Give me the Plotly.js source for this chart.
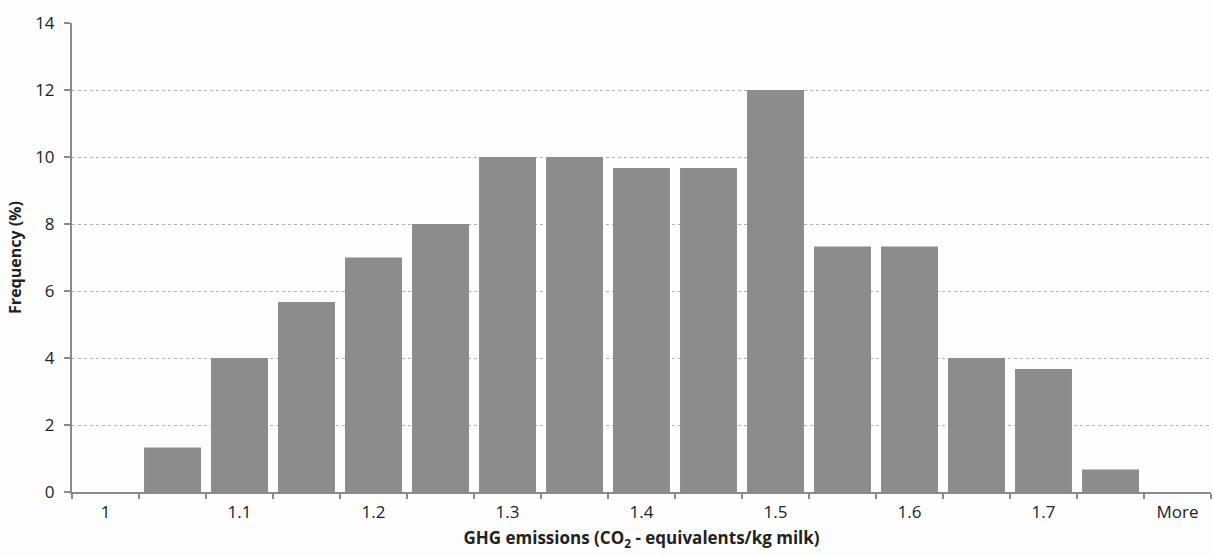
<!DOCTYPE html>
<html>
<head>
<meta charset="utf-8">
<script src="https://cdn.plot.ly/plotly-3.0.1.min.js"></script>
<style>html,body{margin:0;padding:0;background:#fdfdfd;}#chart{width:1213px;height:557px;}</style>
</head>
<body>
<div id="chart"></div>
<script>
const categories = ['1','1.05','1.1','1.15','1.2','1.25','1.3','1.35','1.4','1.45','1.5','1.55','1.6','1.65','1.7','1.75','More'];
const frequency = [0, 1.33, 4, 5.67, 7, 8, 10, 10, 9.67, 9.67, 12, 7.33, 7.33, 4, 3.67, 0.67, 0];
const tickLabels = ['1','','1.1','','1.2','','1.3','','1.4','','1.5','','1.6','','1.7','','More'];
const yTicks = [0, 2, 4, 6, 8, 10, 12, 14];

const trace = {
  type: 'bar',
  x: categories,
  y: frequency,
  marker: {color: '#8c8c8c', line: {width: 0}},
  hoverinfo: 'x+y'
};

const layout = {
  width: 1213, height: 557,
  margin: {l: 72, r: 2, t: 23, b: 65},
  paper_bgcolor: '#fdfdfd',
  plot_bgcolor: '#fdfdfd',
  bargap: 0.15,
  showlegend: false,
  font: {family: 'Open Sans, Noto Sans, sans-serif', color: '#222222', size: 17},
  xaxis: {
    type: 'category',
    tickmode: 'array',
    tickvals: categories,
    ticktext: tickLabels,
    tickson: 'boundaries',
    ticks: 'outside', ticklen: 5, tickcolor: '#8a8a8a', tickwidth: 1.5,
    ticklabelstandoff: 4,
    showgrid: false,
    showline: true, linecolor: '#8a8a8a', linewidth: 2,
    tickfont: {size: 17, color: '#222222'},
    title: {text: '<b>GHG emissions (CO<sub>2</sub> - equivalents/kg milk)</b>', font: {size: 17, color: '#222222'}, standoff: 10},
    fixedrange: true
  },
  yaxis: {
    range: [0, 14],
    tickmode: 'array',
    tickvals: yTicks,
    ticks: 'outside', ticklen: 6, tickcolor: '#8a8a8a', tickwidth: 1.5,
    ticklabelstandoff: 6,
    showgrid: true, gridcolor: '#b0b0b0', griddash: 'dot', gridwidth: 1,
    zeroline: false,
    showline: true, linecolor: '#8a8a8a', linewidth: 2,
    tickfont: {size: 17, color: '#222222'},
    title: {text: '<b>Frequency (%)</b>', font: {size: 16, color: '#222222'}, standoff: 10},
    fixedrange: true
  }
};

Plotly.newPlot('chart', [trace], layout, {displayModeBar: false, staticPlot: true});
</script>
</body>
</html>
